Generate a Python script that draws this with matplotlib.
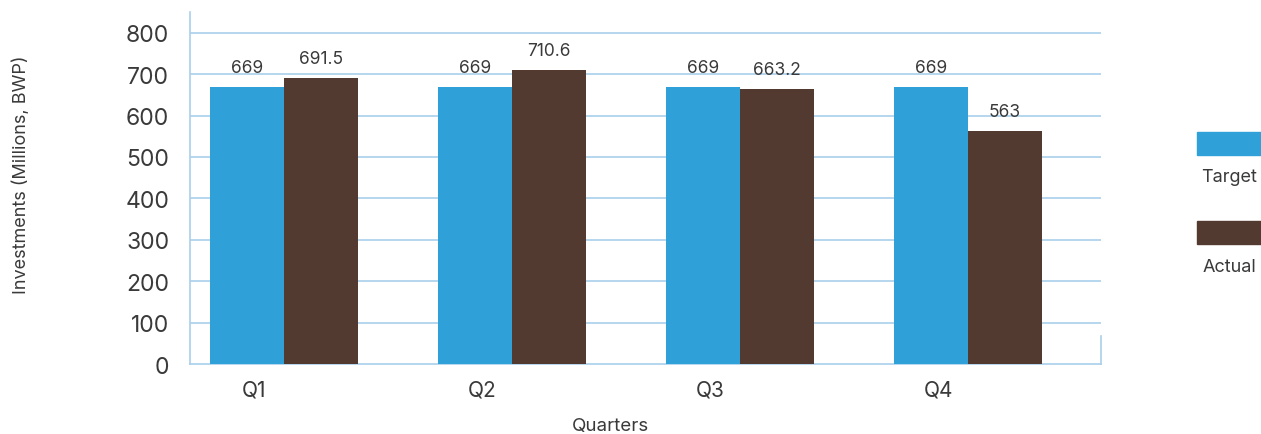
import numpy as np
import matplotlib.pyplot as plt
from matplotlib.patches import Rectangle

quarters = ['Q1', 'Q2', 'Q3', 'Q4']
target = [669, 669, 669, 669]
actual = [691.5, 710.6, 663.2, 563]
target_lbl = ['669', '669', '669', '669']
actual_lbl = ['691.5', '710.6', '663.2', '563']
yticks = [0, 100, 200, 300, 400, 500, 600, 700, 800]

blue = '#2fa0d8'
brown = '#533a31'
grid_c = '#a9cfec'
txt = '#3a3a3a'

plt.rcParams['font.family'] = ['Inter', 'DejaVu Sans']

fig = plt.figure(figsize=(12.61, 4.35), dpi=100)
ax = fig.add_axes([0.1507, 0.1609, 0.7224, 0.809])

x = np.arange(len(quarters))
w = 0.325
b1 = ax.bar(x - w / 2, target, w, color=blue, zorder=3)
b2 = ax.bar(x + w / 2, actual, w, color=brown, zorder=3)

for rect, s in zip(list(b1) + list(b2), target_lbl + actual_lbl):
    ax.annotate(s, (rect.get_x() + rect.get_width() / 2, rect.get_height()),
                xytext=(0, 8), textcoords='offset points', ha='center', va='bottom',
                fontsize=12.5, color=txt)

ax.set_xlim(-0.412, 3.583)
ax.set_ylim(0, 850)
ax.set_yticks(yticks)
ax.set_yticklabels([str(v) for v in yticks], fontsize=16.5, color=txt)
ax.set_xticks(x - 0.13)
ax.set_xticklabels(quarters, fontsize=15, color=txt)
ax.tick_params(axis='y', length=0, pad=15)
ax.tick_params(axis='x', length=0, pad=11)

for v in yticks[1:]:
    ax.axhline(v, color=grid_c, lw=1.2, zorder=1)

for s in ['top', 'right']:
    ax.spines[s].set_visible(False)
ax.spines['left'].set_color(grid_c)
ax.spines['bottom'].set_color(grid_c)
ax.spines['left'].set_linewidth(1.2)
ax.spines['bottom'].set_linewidth(1.2)
ax.plot([1, 1], [0, 0.08], transform=ax.transAxes, color=grid_c, lw=1.2, clip_on=False)

ax.set_ylabel('Investments (Millions, BWP)', fontsize=13, color=txt)
ax.yaxis.set_label_coords(-0.1756, 0.54)
ax.set_xlabel('Quarters', fontsize=13.5, color=txt)
ax.xaxis.set_label_coords(0.462, -0.15)

# legend on the right
W, H = 1261, 435
for col, name, ytop in [(blue, 'Target', 133), (brown, 'Actual', 222)]:
    fig.patches.append(Rectangle((1197 / W, 1 - (ytop + 23) / H), 70 / W, 23 / H,
                                 transform=fig.transFigure, color=col))
    fig.text(1229 / W, 1 - (ytop + 45) / H, name, ha='center', va='center',
             fontsize=13, color=txt)

fig.savefig('out.png', dpi=100)
